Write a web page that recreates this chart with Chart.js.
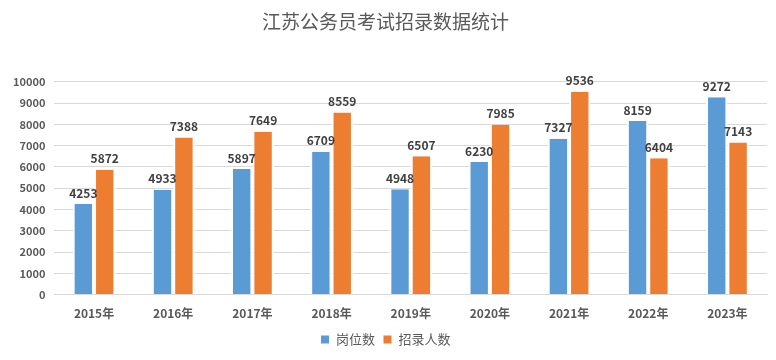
<!DOCTYPE html>
<html>
<head>
<meta charset="utf-8">
<script src="https://cdn.jsdelivr.net/npm/chart.js@4.4.0/dist/chart.umd.min.js"></script>
<style>
  html, body { margin: 0; padding: 0; background: #fff; }
  #wrap { width: 776px; height: 360px; position: relative; }
</style>
</head>
<body>
<div id="wrap"><canvas id="jsChart"></canvas></div>
<script>
// 年份与数据
const years = ['2015年', '2016年', '2017年', '2018年', '2019年', '2020年', '2021年', '2022年', '2023年'];
const postCounts = [4253, 4933, 5897, 6709, 4948, 6230, 7327, 8159, 9272];
const hireCounts = [5872, 7388, 7649, 8559, 6507, 7985, 9536, 6404, 7143];

const FONT = '"Noto Sans CJK SC", "Liberation Sans", sans-serif';

// 柱顶数值标签
const barLabels = {
    id: 'barLabels',
    afterDatasetsDraw(chart) {
        const ctx = chart.ctx;
        ctx.save();
        ctx.font = 'bold 12px ' + FONT;
        ctx.fillStyle = '#404040';
        ctx.textAlign = 'center';
        ctx.textBaseline = 'bottom';
        chart.data.datasets.forEach((ds, i) => {
            chart.getDatasetMeta(i).data.forEach((bar, j) => {
                ctx.fillText(ds.data[j], bar.x, bar.y - 5);
            });
        });
        ctx.restore();
    }
};

new Chart(document.getElementById('jsChart'), {
    type: 'bar',
    data: {
        labels: years,
        datasets: [
            {
                label: '岗位数',
                data: postCounts,
                backgroundColor: '#5b9bd5',
                borderColor: '#ffffff',
                borderWidth: { left: 2, right: 2, top: 0, bottom: 0 },
                borderSkipped: false
            },
            {
                label: '招录人数',
                data: hireCounts,
                backgroundColor: '#ed7d31',
                borderColor: '#ffffff',
                borderWidth: { left: 2, right: 2, top: 0, bottom: 0 },
                borderSkipped: false
            }
        ]
    },
    options: {
        responsive: true,
        maintainAspectRatio: false,
        animation: false,
        layout: { padding: { left: 4, right: 9, top: 0, bottom: 4 } },
        datasets: {
            bar: { categoryPercentage: 0.54, barPercentage: 1 }
        },
        plugins: {
            title: {
                display: true,
                text: '江苏公务员考试招录数据统计',
                color: '#595959',
                font: { family: FONT, size: 19, weight: 'normal' },
                padding: { top: 10, bottom: 49 }
            },
            legend: {
                position: 'bottom',
                labels: {
                    color: '#595959',
                    font: { family: FONT, size: 13 },
                    boxWidth: 9,
                    boxHeight: 9,
                    padding: 8
                }
            },
            tooltip: { enabled: false }
        },
        scales: {
            x: {
                grid: { display: false },
                border: { color: '#d9d9d9' },
                ticks: {
                    color: '#595959',
                    font: { family: FONT, size: 12, weight: 'bold' },
                    padding: 4
                }
            },
            y: {
                min: 0,
                max: 10000,
                grid: { color: '#d9d9d9', drawTicks: false },
                border: { display: false },
                ticks: {
                    stepSize: 1000,
                    color: '#595959',
                    font: { family: FONT, size: 11, weight: 'bold' },
                    padding: 9,
                    callback: (v) => String(v)
                }
            }
        }
    },
    plugins: [barLabels]
});
</script>
</body>
</html>
